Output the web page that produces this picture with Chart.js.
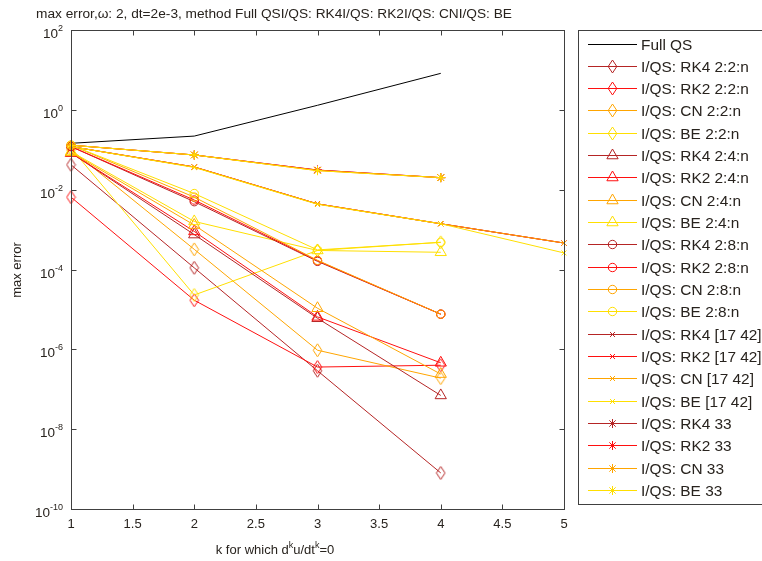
<!DOCTYPE html>
<html>
<head>
<meta charset="utf-8">
<script src="https://cdn.jsdelivr.net/npm/chart.js@4/dist/chart.umd.min.js"></script>
<style>
  html, body { margin: 0; padding: 0; background: #fff; }
  #wrap { width: 762px; height: 561px; }
</style>
</head>
<body>
<div id="wrap"><canvas id="errChart" width="762" height="561"></canvas></div>
<script>
// eixo x: k
const kValues = [1, 2, 3, 4, 5];
const xTickValues = [1, 1.5, 2, 2.5, 3, 3.5, 4, 4.5, 5];
const yTickExps = [-10, -8, -6, -4, -2, 0, 2];

// Full QS
const fullQS = [0.145, 0.22, 1.3, 8.2];

// 2:2:n (losangos)
const rk4_22 = [0.042, 1.1e-4, 2.9e-7, 8e-10];
const rk2_22 = [0.0065, 1.7e-5, 3.6e-7, 4e-7];
const cn_22 = [0.1, 3.2e-4, 9.5e-7, 1.9e-7];
const be_22 = [0.11, 2.3e-5, 3e-4, 4.8e-4];

// 2:4:n (triangulos)
const rk4_24 = [0.083, 7.5e-4, 6e-6, 7e-8];
const rk2_24 = [0.083, 9e-4, 6.5e-6, 4.6e-7];
const cn_24 = [0.086, 1.3e-3, 1.07e-5, 2.4e-7];
const be_24 = [0.09, 1.6e-3, 3e-4, 2.7e-4];

// 2:8:n (circulos)
const rk4_28 = [0.12, 0.005, 1.6e-4, 7.6e-6];
const rk2_28 = [0.12, 0.0055, 1.66e-4, 7.6e-6];
const cn_28 = [0.13, 0.0065, 1.7e-4, 7.6e-6];
const be_28 = [0.13, 0.008, 3.1e-4, 4.8e-4];

// [17 42] (x)
const rk4_1742 = [0.12, 0.037, 0.0044, 0.0014, 4.6e-4];
const rk2_1742 = [0.12, 0.037, 0.0044, 0.0014, 4.6e-4];
const cn_1742 = [0.12, 0.037, 0.0044, 0.0014, 4.6e-4];
const be_1742 = [0.12, 0.036, 0.0043, 0.0014, 2.6e-4];

// 33 (estrelas)
const rk4_33 = [0.13, 0.074, 0.031, 0.02];
const rk2_33 = [0.13, 0.074, 0.031, 0.02];
const cn_33 = [0.13, 0.074, 0.03, 0.02];
const be_33 = [0.13, 0.074, 0.03, 0.02];

const methods = ['RK4', 'RK2', 'CN', 'BE'];
const methodColors = { RK4: '#B52525', RK2: '#FF1010', CN: '#FFA500', BE: '#FFDF00' };

// losango alto e estreito como o do MATLAB
function diamondMarker(color) {
  const c = document.createElement('canvas');
  c.width = 11; c.height = 15;
  const g = c.getContext('2d');
  g.strokeStyle = color;
  g.lineWidth = 1;
  g.beginPath();
  g.moveTo(5.5, 1); g.lineTo(9.8, 7.5); g.lineTo(5.5, 14); g.lineTo(1.2, 7.5);
  g.closePath();
  g.stroke();
  return c;
}

const groups = [
  { tag: '2:2:n', style: 'diamond', radius: 5, series: [rk4_22, rk2_22, cn_22, be_22] },
  { tag: '2:4:n', style: 'triangle', radius: 6.5, series: [rk4_24, rk2_24, cn_24, be_24] },
  { tag: '2:8:n', style: 'circle', radius: 4.2, series: [rk4_28, rk2_28, cn_28, be_28] },
  { tag: '[17 42]', style: 'crossRot', radius: 3.5, series: [rk4_1742, rk2_1742, cn_1742, be_1742] },
  { tag: '33', style: 'star', radius: 4.5, series: [rk4_33, rk2_33, cn_33, be_33] }
];

const FONT = '"Liberation Sans", Arial, sans-serif';
const TXT = '#28231e';
const AXIS = '#404040';

function toPoints(vals) {
  return vals.map((v, i) => ({ x: kValues[i], y: v }));
}

const datasets = [{
  label: 'Full QS',
  data: toPoints(fullQS),
  borderColor: '#000000',
  borderWidth: 1,
  pointRadius: 0,
  pointStyle: false,
  clip: false
}];

groups.forEach(g => {
  g.series.forEach((vals, j) => {
    const m = methods[j];
    const ps = g.style === 'diamond' ? diamondMarker(methodColors[m]) : g.style;
    datasets.push({
      label: 'I/QS: ' + m + ' ' + g.tag,
      data: toPoints(vals),
      borderColor: methodColors[m],
      backgroundColor: 'rgba(0,0,0,0)',
      borderWidth: 1,
      pointStyle: ps,
      pointRadius: g.radius,
      pointBorderWidth: 1,
      pointBackgroundColor: 'rgba(0,0,0,0)',
      pointBorderColor: methodColors[m],
      clip: false
    });
  });
});

// ordem de desenho como no MATLAB: o ultimo fica por cima
datasets.forEach((d, i) => { d.order = datasets.length - i; });

const matlabPlugin = {
  id: 'matlabAxes',
  afterDraw(chart) {
    const ctx = chart.ctx;
    const a = chart.chartArea;
    const xs = chart.scales.x;
    const ys = chart.scales.y;
    const L = Math.round(a.left) + 0.5, R = Math.round(a.right) + 0.5;
    const T = Math.round(a.top) + 0.5, B = Math.round(a.bottom) + 0.5;
    ctx.save();

    // caixa e ticks
    ctx.strokeStyle = AXIS;
    ctx.lineWidth = 1;
    ctx.strokeRect(L, T, R - L, B - T);
    ctx.beginPath();
    xTickValues.forEach(v => {
      const px = Math.round(xs.getPixelForValue(v)) + 0.5;
      ctx.moveTo(px, B); ctx.lineTo(px, B - 5);
      ctx.moveTo(px, T); ctx.lineTo(px, T + 5);
    });
    yTickExps.forEach(e => {
      const py = Math.round(ys.getPixelForValue(Math.pow(10, e))) + 0.5;
      ctx.moveTo(L, py); ctx.lineTo(L + 5, py);
      ctx.moveTo(R, py); ctx.lineTo(R - 5, py);
    });
    ctx.stroke();

    // rotulos x
    ctx.fillStyle = TXT;
    ctx.font = '13px ' + FONT;
    ctx.textAlign = 'center';
    ctx.textBaseline = 'alphabetic';
    xTickValues.forEach(v => {
      ctx.fillText(String(v), xs.getPixelForValue(v), 528);
    });

    // rotulos y: 10^n
    yTickExps.forEach(e => {
      const py = ys.getPixelForValue(Math.pow(10, e));
      ctx.font = '13.5px ' + FONT;
      const wb = ctx.measureText('10').width;
      ctx.font = '9px ' + FONT;
      const ws = ctx.measureText(String(e)).width;
      const x0 = 63 - wb - ws;
      ctx.textAlign = 'left';
      ctx.font = '13.5px ' + FONT;
      ctx.fillText('10', x0, py + 8);
      ctx.font = '9px ' + FONT;
      ctx.fillText(String(e), x0 + wb, py + 1);
    });

    // titulo do eixo x com sobrescritos
    const parts = [['k for which d', 0], ['k', 1], ['u/dt', 0], ['k', 1], ['=0', 0]];
    let total = 0;
    parts.forEach(p => {
      ctx.font = (p[1] ? '9px ' : '13px ') + FONT;
      total += ctx.measureText(p[0]).width;
    });
    let cx = 275 - total / 2;
    parts.forEach(p => {
      ctx.font = (p[1] ? '9px ' : '13px ') + FONT;
      ctx.fillText(p[0], cx, p[1] ? 548 : 554);
      cx += ctx.measureText(p[0]).width;
    });

    // titulo do eixo y
    ctx.save();
    ctx.translate(21, 270);
    ctx.rotate(-Math.PI / 2);
    ctx.font = '13px ' + FONT;
    ctx.textAlign = 'center';
    ctx.fillText('max error', 0, 0);
    ctx.restore();

    // titulo
    ctx.font = '13.7px ' + FONT;
    ctx.textAlign = 'center';
    ctx.fillText('max error,\u03c9: 2, dt=2e-3, method Full QSI/QS: RK4I/QS: RK2I/QS: CNI/QS: BE', 274, 18);

    // legenda
    ctx.fillStyle = '#ffffff';
    ctx.fillRect(579, 31, 200, 473);
    ctx.strokeStyle = AXIS;
    ctx.strokeRect(578.5, 30.5, 200, 474);
    chart.data.datasets.forEach((d, i) => {
      const y = Math.round(43.5 + i * 22.33) + 0.5;
      ctx.strokeStyle = d.borderColor;
      ctx.lineWidth = 1;
      ctx.beginPath();
      ctx.moveTo(588, y); ctx.lineTo(637, y);
      ctx.stroke();
      if (d.pointStyle) {
        ctx.fillStyle = 'rgba(0,0,0,0)';
        Chart.helpers.drawPoint(ctx, {
          pointStyle: d.pointStyle, radius: d.pointRadius, rotation: 0, borderWidth: 1
        }, 612.5, y);
      }
      ctx.fillStyle = TXT;
      ctx.font = '15.4px ' + FONT;
      ctx.textAlign = 'left';
      ctx.textBaseline = 'middle';
      ctx.fillText(d.label, 641, y + 1);
      ctx.textBaseline = 'alphabetic';
    });
    ctx.restore();
  }
};

new Chart(document.getElementById('errChart'), {
  type: 'line',
  data: { datasets: datasets },
  options: {
    responsive: false,
    animation: false,
    devicePixelRatio: 1,
    layout: { padding: { left: 0, top: 30, right: 198, bottom: 0 } },
    plugins: { legend: { display: false }, tooltip: { enabled: false }, title: { display: false } },
    elements: { line: { tension: 0 } },
    scales: {
      x: {
        type: 'linear', min: 1, max: 5,
        grid: { display: false }, border: { display: false },
        ticks: { display: false },
        afterFit(scale) { scale.height = 52; }
      },
      y: {
        type: 'logarithmic', min: 1e-10, max: 1e2,
        grid: { display: false }, border: { display: false },
        ticks: { display: false },
        afterFit(scale) { scale.width = 71; }
      }
    }
  },
  plugins: [matlabPlugin]
});
</script>
</body>
</html>
